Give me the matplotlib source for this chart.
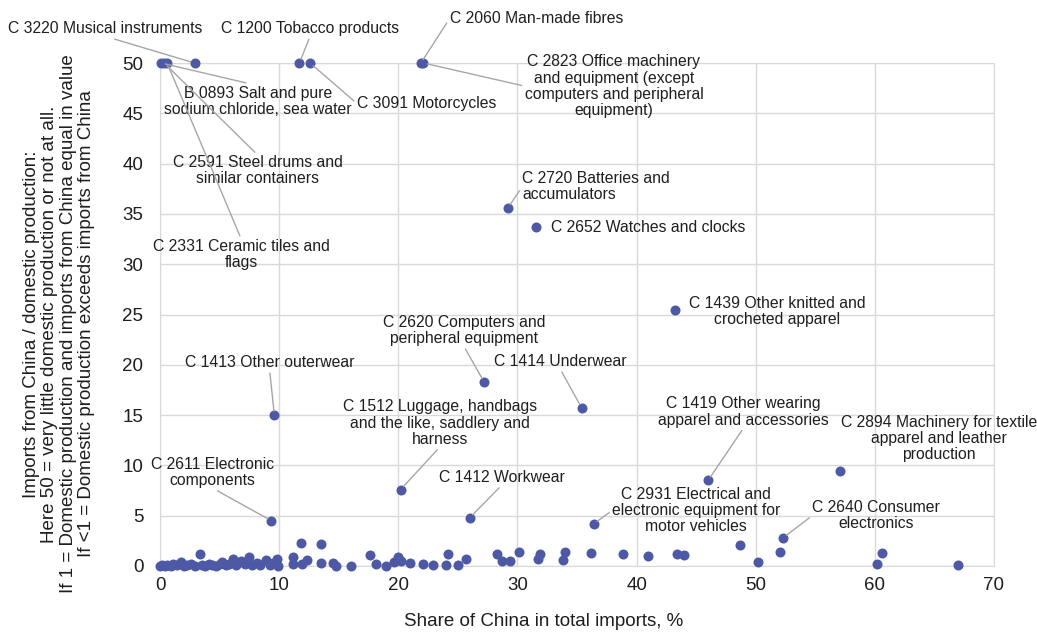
#!/usr/bin/env python
# Scatter: share of China in imports vs. imports-from-China / domestic production,
# with Excel-style callout labels for the notable industries.
import matplotlib
matplotlib.use("Agg")
import matplotlib.pyplot as plt

plt.rcParams["font.family"] = ["Liberation Sans", "DejaVu Sans"]

DOT = "#4E59A6"; GRID = "#D9D9D9"; LEAD = "#A6A6A6"; INK = "#1E1E1E"

# labelled industries: share of China (%), imports/domestic ratio
lab_names = [
    "C 3220 Musical instruments", "B 0893 Salt and pure\nsodium chloride, sea water",
    "C 2591 Steel drums and\nsimilar containers", "C 2331 Ceramic tiles and\nflags",
    "C 1200 Tobacco products", "C 3091 Motorcycles", "C 2060 Man-made fibres",
    "C 2823 Office machinery\nand equipment (except\ncomputers and peripheral\nequipment)",
    "C 2720 Batteries and\naccumulators", "C 2652 Watches and clocks",
    "C 1439 Other knitted and\ncrocheted apparel", "C 2620 Computers and\nperipheral equipment",
    "C 1414 Underwear", "C 1413 Other outerwear",
    "C 1512 Luggage, handbags\nand the like, saddlery and\nharness",
    "C 2611 Electronic\ncomponents", "C 1412 Workwear",
    "C 2931 Electrical and\nelectronic equipment for\nmotor vehicles",
    "C 1419 Other wearing\napparel and accessories",
    "C 2894 Machinery for textile\napparel and leather\nproduction",
    "C 2640 Consumer\nelectronics",
]
lab_x = [2.9, 0.1, 0.35, 0.6, 11.7, 12.6, 21.9, 22.1, 29.2, 31.6, 43.2, 27.2,
         35.4, 9.6, 20.2, 9.35, 26.0, 36.4, 46.0, 57.1, 52.3]
lab_y = [50, 50, 50, 50, 50, 50, 50, 50, 35.6, 33.7, 25.4, 18.3,
         15.7, 15.0, 7.6, 4.5, 4.8, 4.2, 8.5, 9.4, 2.8]

# the remaining (unlabelled) industries
oth_x = [0.0, 0.2, 0.4, 0.6, 0.9, 1.1, 1.4, 1.8, 2.0, 2.3, 2.6, 2.9, 3.35, 3.5, 3.8,
         4.1, 4.4, 4.7, 5.0, 5.2, 5.5, 5.8, 6.1, 6.4, 6.8, 7.1, 7.5, 7.7, 8.1, 8.4,
         8.9, 9.2, 9.5, 9.8, 9.9,
         11.2, 11.8, 13.5, 11.2, 12.3, 11.9, 13.5, 14.5, 14.8, 16.0, 17.6, 18.1,
         19.0, 20.0, 20.2, 19.6, 21.0, 22.1, 22.9, 24.2, 24.0, 25.0, 25.7, 28.3,
         28.7, 29.4, 30.1, 31.9, 31.7, 34.0, 33.8, 36.2, 38.9, 41.0, 43.4, 44.0,
         48.7, 50.2, 52.0, 60.6, 60.2, 67.0]
oth_y = [0.0, 0.1, 0.0, 0.1, 0.0, 0.2, 0.1, 0.4, 0.0, 0.1, 0.2, 0.0, 1.2, 0.1, 0.0,
         0.2, 0.1, 0.0, 0.2, 0.4, 0.1, 0.2, 0.7, 0.1, 0.5, 0.2, 0.9, 0.1, 0.3, 0.1,
         0.6, 0.1, 0.3, 0.7, 0.0,
         0.85, 2.3, 2.2, 0.2, 0.6, 0.2, 0.3, 0.3, 0.0, 0.0, 1.1, 0.2,
         0.0, 0.85, 0.45, 0.35, 0.3, 0.2, 0.1, 1.2, 0.1, 0.1, 0.7, 1.2,
         0.5, 0.5, 1.4, 1.2, 0.7, 1.4, 0.6, 1.3, 1.2, 1.0, 1.2, 1.1,
         2.1, 0.4, 1.4, 1.3, 0.2, 0.1]

# label placement: text anchor (data coords), alignment, leader start on text box (None = no leader)
LABEL_POS = [
    (-4.6, 53.4, "center", (0.5, 0)), (8.2, 46.2, "center", (0.5, 1)),
    (8.2, 39.3, "center", (0.5, 1)), (6.8, 31.0, "center", (0.5, 1)),
    (12.6, 53.4, "center", (0.5, 0)), (16.5, 46.0, "left", (0, 0.5)),
    (24.3, 54.4, "left", (0, 0.5)), (38.1, 47.7, "center", (0, 0.5)),
    (30.4, 37.7, "left", (0, 0.5)), (32.8, 33.6, "left", None),
    (51.8, 25.3, "center", None), (25.5, 23.4, "center", (0.5, 0)),
    (33.6, 20.3, "center", (0.5, 0)), (9.2, 20.2, "center", (0.5, 0)),
    (23.5, 14.2, "center", (0.5, 0)), (4.4, 9.3, "center", (0.5, 0)),
    (28.7, 8.8, "center", (0.5, 0)), (45.0, 5.5, "center", (0, 0.5)),
    (49.0, 15.3, "center", (0.5, 0)), (65.4, 12.7, "center", None),
    (60.1, 5.0, "center", (0, 0.5)),
]


def build():
    fig = plt.figure(figsize=(10.37, 6.35), dpi=100)
    ax = fig.add_axes([160 / 1037, 1 - 566 / 635, 834 / 1037, 503 / 635])
    ax.set_xlim(0, 70)
    ax.set_ylim(0, 50)
    ax.set_xticks(range(0, 71, 10))
    ax.set_yticks(range(0, 51, 5))
    ax.grid(True, color=GRID, lw=1)
    ax.set_axisbelow(True)
    for s in ax.spines.values():
        s.set_color(GRID)
    ax.tick_params(length=0, labelsize=13.5, colors=INK)
    ax.tick_params(axis="y", pad=12)
    ax.tick_params(axis="x", pad=8)

    ax.scatter(oth_x, oth_y, s=52, color=DOT, zorder=3, clip_on=False, linewidths=0)
    ax.scatter(lab_x, lab_y, s=52, color=DOT, zorder=3, clip_on=False, linewidths=0)

    for name, x, y, (tx, ty, ha, rel) in zip(lab_names, lab_x, lab_y, LABEL_POS):
        kw = dict(ha=ha, va="center", fontsize=11.3, color=INK, linespacing=1.1,
                  multialignment=ha, annotation_clip=False, zorder=4)
        if rel is not None:
            kw["arrowprops"] = dict(arrowstyle="-", color=LEAD, lw=1, shrinkA=0,
                                    shrinkB=3, relpos=rel)
        ax.annotate(name, xy=(x, y), xytext=(tx, ty), textcoords="data", **kw)

    fig.text(544 / 1037, 1 - 621 / 635, "Share of China in total imports, %",
             ha="center", va="center", fontsize=13.5, color=INK)
    fig.text(59 / 1037, 1 - 324 / 635,
             "Imports from China / domestic production:\n"
             "Here 50 = very little domestic production or not at all.\n"
             "If 1 = Domestic production and imports from China equal in value\n"
             "If <1 = Domestic production exceeds imports from China",
             ha="center", va="center", rotation=90, fontsize=13.5, color=INK,
             linespacing=1.08, multialignment="center")

    fig.savefig("out.png", dpi=100, facecolor="white")
    plt.close(fig)


if __name__ == "__main__":
    build()
